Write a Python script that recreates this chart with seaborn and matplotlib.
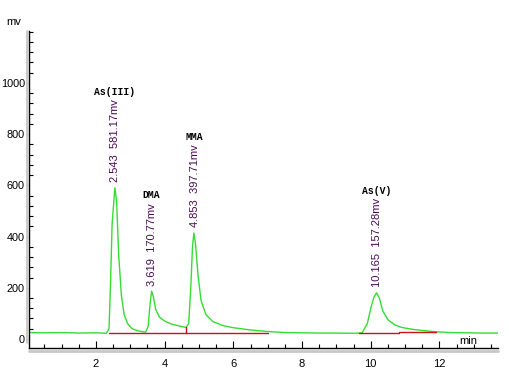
import matplotlib
matplotlib.use("Agg")
import matplotlib.pyplot as plt
import seaborn as sns
import pandas as pd
from matplotlib.ticker import MultipleLocator

# Chromatogram trace (time in min, signal in mv)
time_min = [0.05, 0.5, 1.0, 1.5, 2.0, 2.3, 2.38, 2.42, 2.47, 2.55, 2.6, 2.66, 2.74, 2.82, 2.92,
            3.05, 3.2, 3.35, 3.45, 3.52, 3.57, 3.62, 3.67, 3.74, 3.85, 4.0, 4.2, 4.45, 4.62,
            4.7, 4.76, 4.81, 4.85, 4.9, 4.97, 5.06, 5.2, 5.4, 5.7, 6.0, 6.5, 7.0, 7.5, 8.0,
            8.5, 9.0, 9.5, 9.75, 9.9, 10.02, 10.1, 10.17, 10.25, 10.35, 10.5, 10.7, 10.9,
            11.2, 11.5, 11.9, 12.3, 12.8, 13.2, 13.7]
signal_mv = [25, 24, 25, 23, 24, 22, 40, 200, 450, 590, 540, 330, 170, 95, 60,
             40, 33, 28, 27, 50, 130, 187, 165, 115, 85, 70, 58, 50, 45,
             60, 200, 360, 414, 370, 250, 150, 95, 68, 52, 44, 35, 29, 25, 24,
             23, 23, 22, 24, 60, 130, 165, 180, 160, 110, 75, 55, 45,
             38, 33, 28, 25, 24, 23, 23]

# Integration baselines (start, end, level)
base_start = [2.38, 4.62, 9.65, 10.82]
base_end = [4.62, 7.0, 10.82, 11.9]
base_level = [22, 22, 22, 27]

# Peak annotations
peak_rt = [2.543, 3.619, 4.853, 10.165]
peak_height = [590, 187, 414, 180]
peak_area_mv = [581.17, 170.77, 397.71, 157.28]
peak_names = ["As(III)", "DMA", "MMA", "As(V)"]

trace = pd.DataFrame({"time": time_min, "mv": signal_mv})

sns.set_style("white")
plt.rcParams["font.family"] = ["Liberation Sans", "DejaVu Sans"]

fig = plt.figure(figsize=(5.09, 3.87), dpi=100)
ax = fig.add_axes([0.057, 0.101, 0.921, 0.819])

sns.lineplot(data=trace, x="time", y="mv", ax=ax, color="#33dd33", linewidth=1.0)

for s, e, lv in zip(base_start, base_end, base_level):
    ax.plot([s, e], [lv, lv], color="#cc1111", linewidth=1.0)
ax.plot([4.62, 4.62], [22, 45], color="#cc1111", linewidth=1.0)

for rt, h, a, name in zip(peak_rt, peak_height, peak_area_mv, peak_names):
    label = f"{rt:.3f}  {a:.2f}mv"
    ax.annotate(label, xy=(rt, h), xytext=(0.5, 4),
                textcoords="offset points", rotation=90, ha="center", va="bottom",
                fontsize=8, color="#4b0a55")
    ax.annotate(name, xy=(rt, h), xytext=(0, 4 + len(label) * 4.1),
                textcoords="offset points", ha="center", va="bottom",
                fontsize=7, family="Liberation Mono", fontweight="bold", color="black")

ax.set_xlim(0.05, 13.7)
ax.set_ylim(-35, 1203)
ax.set_xticks([2, 4, 6, 8, 10, 12])
ax.set_yticks([0, 200, 400, 600, 800, 1000])
ax.xaxis.set_minor_locator(MultipleLocator(0.5))
ax.yaxis.set_minor_locator(MultipleLocator(40))
ax.tick_params(axis="x", which="major", direction="in", length=5, width=0.8,
               labelsize=8, pad=8, bottom=True, colors="black")
ax.tick_params(axis="x", which="minor", direction="in", length=3, width=0.8, bottom=True,
               colors="black")
ax.tick_params(axis="y", which="major", direction="out", length=2.5, width=0.8,
               labelsize=7.8, pad=0.5, left=True, colors="black")
ax.tick_params(axis="y", which="minor", direction="in", length=3, width=0.8, left=True,
               colors="black")
ax.set_xlabel("")
ax.set_ylabel("")

for side in ["top", "right"]:
    ax.spines[side].set_visible(False)
for side in ["left", "bottom"]:
    ax.spines[side].set_color("black")
    ax.spines[side].set_linewidth(1.0)

# grey shadow along the axes
fig.add_artist(plt.Line2D([0.053, 0.053], [0.115, 0.92], color="#c8c8c8", linewidth=2))
fig.add_artist(plt.Line2D([0.057, 0.978], [0.094, 0.094], color="#c8c8c8", linewidth=2))

fig.text(0.012, 0.935, "mv", fontsize=8, color="black")
ax.text(12.85, 10, "min", fontsize=8, ha="center", va="top", color="black")

fig.savefig("out.png", dpi=100)
